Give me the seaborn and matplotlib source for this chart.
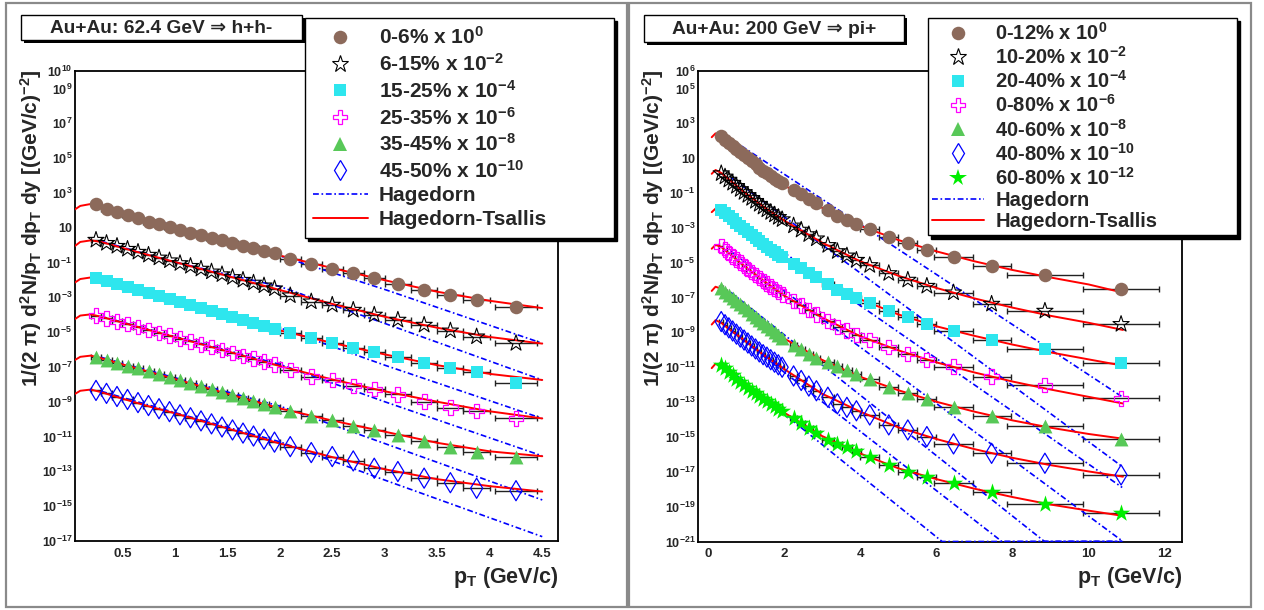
import numpy as np
import matplotlib
matplotlib.use("Agg")
import matplotlib.pyplot as plt
import seaborn as sns
from matplotlib.lines import Line2D
from matplotlib.patches import Rectangle
from matplotlib.ticker import FixedLocator, FixedFormatter, NullFormatter, MultipleLocator

# ---------------------------------------------------------------- data
# Left panel: Au+Au 62.4 GeV, h+h-   (values are log10 of the plotted yield)
left_pt = [0.25, 0.35, 0.45, 0.55, 0.65, 0.75, 0.85, 0.95, 1.05, 1.15, 1.25, 1.35, 1.45, 1.55,
           1.65, 1.75, 1.85, 1.95, 2.1, 2.3, 2.5, 2.7, 2.9, 3.125, 3.375, 3.625, 3.875, 4.25]
left_pt_err = [0.05] * 18 + [0.1, 0.1, 0.1, 0.1, 0.1, 0.125, 0.125, 0.125, 0.125, 0.2]

left_c0_6 = [2.34, 2.07, 1.90, 1.73, 1.54, 1.35, 1.19, 1.04, 0.87, 0.71, 0.56, 0.43, 0.27, 0.12,
             -0.03, -0.17, -0.32, -0.47, -0.78, -1.10, -1.36, -1.62, -1.91, -2.23, -2.58, -2.85, -3.15, -3.57]
left_c6_15 = [0.29, 0.11, -0.06, -0.23, -0.40, -0.57, -0.73, -0.89, -1.05, -1.21, -1.37, -1.53, -1.69, -1.85,
              -2.01, -2.17, -2.33, -2.50, -2.90, -3.25, -3.44, -3.73, -4.01, -4.30, -4.59, -4.92, -5.26, -5.64]
left_c15_25 = [-1.91, -2.09, -2.26, -2.43, -2.60, -2.77, -2.94, -3.11, -3.28, -3.45, -3.62, -3.79, -3.96, -4.13,
               -4.30, -4.47, -4.63, -4.80, -5.05, -5.36, -5.61, -5.89, -6.16, -6.45, -6.75, -7.08, -7.31, -7.90]
left_c25_35 = [-4.05, -4.21, -4.38, -4.54, -4.71, -4.87, -5.04, -5.20, -5.37, -5.53, -5.70, -5.86, -6.03, -6.19,
               -6.36, -6.52, -6.69, -6.85, -7.17, -7.55, -7.75, -8.09, -8.28, -8.57, -8.99, -9.34, -9.53, -9.96]
left_c35_45 = [-6.41, -6.58, -6.75, -6.92, -7.09, -7.26, -7.43, -7.60, -7.77, -7.94, -8.11, -8.28, -8.45, -8.62,
               -8.79, -8.96, -9.13, -9.30, -9.56, -9.80, -10.05, -10.39, -10.62, -10.91, -11.23, -11.58, -11.87, -12.15]
left_c45_50 = [-8.35, -8.52, -8.70, -8.87, -9.05, -9.22, -9.40, -9.57, -9.75, -9.92, -10.10, -10.27, -10.45, -10.62,
               -10.80, -10.97, -11.15, -11.32, -11.58, -11.92, -12.15, -12.40, -12.82, -13.01, -13.39, -13.65, -13.97, -14.11]

# Hagedorn-Tsallis curves (left), log10
left_ht_pt = [0.05, 0.1, 0.2, 0.3, 0.5, 0.75, 1.0, 1.5, 2.0, 2.5, 3.0, 3.5, 4.0, 4.5]
left_ht_0_6 = [2.05, 2.25, 2.36, 2.25, 1.88, 1.43, 1.00, 0.17, -0.60, -1.32, -2.02, -2.68, -3.20, -3.62]
left_ht_6_15 = [-0.05, 0.18, 0.27, 0.18, -0.16, -0.57, -0.97, -1.77, -2.58, -3.38, -4.12, -4.75, -5.28, -5.66]
left_ht_15_25 = [-2.15, -1.95, -1.86, -1.98, -2.33, -2.76, -3.19, -4.04, -4.90, -5.62, -6.28, -6.90, -7.40, -7.75]
left_ht_25_35 = [-4.25, -4.05, -3.98, -4.12, -4.45, -4.87, -5.28, -6.10, -6.95, -7.72, -8.40, -9.00, -9.55, -9.96]
left_ht_35_45 = [-6.60, -6.42, -6.35, -6.50, -6.85, -7.27, -7.69, -8.54, -9.38, -10.08, -10.72, -11.36, -11.85, -12.13]
left_ht_45_50 = [-8.55, -8.37, -8.30, -8.45, -8.82, -9.26, -9.66, -10.53, -11.40, -12.18, -12.88, -13.45, -13.85, -14.16]

# Hagedorn curves (left), log10
left_h_pt = [0.3, 1.0, 2.0, 3.0, 4.5]
left_h_0_6 = [2.30, 1.10, -0.62, -2.55, -5.64]
left_h_6_15 = [0.22, -0.98, -2.38, -4.50, -7.75]
left_h_15_25 = [-1.95, -3.15, -4.75, -6.90, -9.96]
left_h_25_35 = [-4.10, -5.25, -6.85, -9.00, -12.11]
left_h_35_45 = [-6.45, -7.62, -9.25, -11.40, -14.64]
left_h_45_50 = [-8.40, -9.62, -11.30, -13.50, -16.75]

# Right panel: Au+Au 200 GeV, pi+   (log10)
right_pt = [0.35, 0.45, 0.55, 0.65, 0.75, 0.85, 0.95, 1.05, 1.15, 1.25, 1.35, 1.45, 1.55, 1.65, 1.75, 1.85, 1.95,
            2.25, 2.45, 2.65, 2.85, 3.15, 3.4, 3.65, 3.9, 4.25,
            4.75, 5.25, 5.75, 6.45, 7.45, 8.85, 10.85]
right_pt_err = [0.05] * 17 + [0.1, 0.1, 0.1, 0.1, 0.15, 0.125, 0.125, 0.125, 0.25,
                              0.25, 0.25, 0.25, 0.5, 0.5, 1.0, 1.0]
right_c0_12 = [2.25, 2.06, 1.88, 1.70, 1.52, 1.34, 1.16, 0.99, 0.81, 0.64, 0.46, 0.29, 0.12, -0.03, -0.17, -0.31, -0.45,
               -0.83, -1.08, -1.35, -1.60, -1.98, -2.33, -2.55, -2.80, -3.08,
               -3.51, -3.89, -4.27, -4.65, -5.17, -5.70, -6.51]
right_c10_20 = [0.12, -0.07, -0.25, -0.43, -0.61, -0.79, -0.96, -1.13, -1.30, -1.47, -1.64, -1.80, -1.96, -2.11, -2.25, -2.39, -2.52,
                -2.88, -3.12, -3.38, -3.62, -4.00, -4.35, -4.60, -4.85, -5.15,
                -5.61, -5.99, -6.34, -6.72, -7.37, -7.77, -8.53]
right_c20_40 = [-1.97, -2.16, -2.34, -2.52, -2.70, -2.88, -3.06, -3.23, -3.41, -3.58, -3.76, -3.93, -4.10, -4.25, -4.40, -4.55, -4.69,
                -5.08, -5.33, -5.60, -5.85, -6.23, -6.58, -6.80, -7.05, -7.33,
                -7.77, -8.13, -8.52, -8.92, -9.43, -9.97, -10.77]
right_c0_80 = [-4.05, -4.25, -4.44, -4.63, -4.82, -5.00, -5.18, -5.36, -5.54, -5.71, -5.88, -6.05, -6.21, -6.37, -6.52, -6.67, -6.81,
               -7.20, -7.45, -7.72, -7.97, -8.35, -8.68, -8.90, -9.15, -9.43,
               -9.85, -10.24, -10.58, -10.97, -11.54, -12.03, -12.78]
right_c40_60 = [-6.47, -6.66, -6.84, -7.02, -7.20, -7.38, -7.56, -7.74, -7.92, -8.10, -8.28, -8.45, -8.62, -8.80, -8.97, -9.14, -9.32,
                -9.72, -9.98, -10.25, -10.45, -10.70, -10.93, -11.18, -11.40, -11.69,
                -12.15, -12.49, -12.84, -13.26, -13.78, -14.37, -15.13]
right_c40_80 = [-8.38, -8.56, -8.74, -8.92, -9.10, -9.27, -9.44, -9.61, -9.78, -9.95, -10.12, -10.28, -10.42, -10.57, -10.71, -10.86, -11.00,
                -11.50, -11.76, -12.08, -12.35, -12.72, -13.10, -13.30, -13.50, -13.74,
                -14.31, -14.60, -14.98, -15.40, -15.94, -16.51, -17.18]
right_c60_80 = [-10.87, -11.07, -11.27, -11.46, -11.65, -11.83, -12.00, -12.17, -12.34, -12.50, -12.66, -12.82, -12.96, -13.10, -13.24, -13.38, -13.52,
                -13.90, -14.20, -14.50, -14.78, -15.15, -15.38, -15.60, -15.82, -16.16,
                -16.60, -16.99, -17.28, -17.66, -18.17, -18.84, -19.38]

right_ht_pt = [0.1, 0.2, 0.35, 0.5, 1.0, 1.5, 2.0, 3.0, 4.0, 5.0, 6.0, 7.0, 8.0, 9.0, 10.0, 10.9]
right_ht_0_12 = [2.20, 2.42, 2.28, 2.00, 1.05, 0.18, -0.55, -1.85, -2.88, -3.70, -4.35, -4.92, -5.42, -5.85, -6.25, -6.72]
right_ht_10_20 = [0.10, 0.32, 0.15, -0.12, -1.03, -1.85, -2.58, -3.85, -4.92, -5.75, -6.45, -7.05, -7.58, -8.05, -8.45, -8.86]
right_ht_20_40 = [-2.10, -1.90, -2.00, -2.28, -3.15, -4.00, -4.75, -6.05, -7.10, -7.97, -8.65, -9.20, -9.70, -10.15, -10.55, -10.91]
right_ht_0_80 = [-4.20, -3.98, -4.10, -4.37, -5.27, -6.10, -6.88, -8.15, -9.22, -10.03, -10.72, -11.30, -11.82, -12.28, -12.70, -13.08]
right_ht_40_60 = [-6.62, -6.38, -6.50, -6.78, -7.65, -8.53, -9.35, -10.58, -11.55, -12.32, -12.98, -13.55, -14.05, -14.47, -14.83, -15.10]
right_ht_40_80 = [-8.55, -8.30, -8.45, -8.72, -9.52, -10.35, -11.10, -12.52, -13.55, -14.45, -15.12, -15.70, -16.20, -16.62, -16.98, -17.28]
right_ht_60_80 = [-11.05, -10.80, -10.95, -11.25, -12.08, -12.89, -13.60, -14.95, -15.95, -16.80, -17.42, -17.97, -18.45, -18.88, -19.23, -19.53]

# Hagedorn curves (right): (pT, log10); curves below the frame sit on the floor
right_h_0_12_pt, right_h_0_12 = [0.6, 10.88], [2.10, -12.70]
right_h_10_20_pt, right_h_10_20 = [0.6, 10.88], [-0.10, -16.70]
right_h_20_40_pt, right_h_20_40 = [0.6, 10.88], [-2.30, -17.90]
right_h_0_80_pt, right_h_0_80 = [0.6, 10.90], [-4.35, -21.0]
right_h_40_60_pt, right_h_40_60 = [0.6, 8.84, 10.88], [-6.70, -21.0, -21.0]
right_h_40_80_pt, right_h_40_80 = [0.6, 7.72, 10.88], [-8.90, -21.0, -21.0]
right_h_60_80_pt, right_h_60_80 = [0.6, 6.15, 10.88], [-11.20, -21.0, -21.0]

left_labels = ["0-6% x 10$^{0}$", "6-15% x 10$^{-2}$", "15-25% x 10$^{-4}$", "25-35% x 10$^{-6}$",
               "35-45% x 10$^{-8}$", "45-50% x 10$^{-10}$", "Hagedorn", "Hagedorn-Tsallis"]
right_labels = ["0-12% x 10$^{0}$", "10-20% x 10$^{-2}$", "20-40% x 10$^{-4}$", "0-80% x 10$^{-6}$",
                "40-60% x 10$^{-8}$", "40-80% x 10$^{-10}$", "60-80% x 10$^{-12}$", "Hagedorn", "Hagedorn-Tsallis"]
left_title = "Au+Au: 62.4 GeV ⇒ h+h-"
right_title = "Au+Au: 200 GeV ⇒ pi+"
left_xticks = [0.5, 1, 1.5, 2, 2.5, 3, 3.5, 4, 4.5]
left_xticklabels = ["0.5", "1", "1.5", "2", "2.5", "3", "3.5", "4", "4.5"]
right_xticks = [0, 2, 4, 6, 8, 10, 12]
right_xticklabels = ["0", "2", "4", "6", "8", "10", "12"]
left_ytick_exp = [-17, -15, -13, -11, -9, -7, -5, -3, -1, 1, 3, 5, 7, 9, 10]
right_ytick_exp = [-21, -19, -17, -15, -13, -11, -9, -7, -5, -3, -1, 1, 3, 5, 6]
ylabel = "1/(2 π) d$^{2}$N/p$_{T}$ dp$_{T}$ dy [(GeV/c)$^{-2}$]"
xlabel = "p$_{T}$ (GeV/c)"

# ---------------------------------------------------------------- style
sns.set_theme(style="white")
plt.rcParams["font.family"] = ["Liberation Sans", "DejaVu Sans"]
plt.rcParams["font.weight"] = "bold"
plt.rcParams["mathtext.fontset"] = "custom"
for k in ("rm", "it", "bf", "sf"):
    plt.rcParams["mathtext." + k] = "Liberation Sans:bold"
plt.rcParams["mathtext.default"] = "rm"

W, H = 1264, 610
fig = plt.figure(figsize=(W / 100, H / 100), dpi=100)
fig.patch.set_facecolor("white")


def fx(px):
    return px / W


def fy(py):
    return 1 - py / H


# panel borders
for (x0, y0, x1, y1) in [(6, 3, 627, 607), (629, 3, 1251, 607)]:
    fig.add_artist(Rectangle((fx(x0), fy(y1)), (x1 - x0) / W, (y1 - y0) / H, transform=fig.transFigure,
                             fill=False, edgecolor="#8a8a8a", lw=1.6, zorder=0))

axL = fig.add_axes([fx(75), fy(541), (558 - 75) / W, (541 - 71) / H])
axR = fig.add_axes([fx(698), fy(541.5), (1182 - 698) / W, (541.5 - 71) / H])

RED = "#ff0000"
BLUE = "#0000ff"
HDASH = (0, (3.5, 1.6, 1.0, 1.6))

styles = {
    "brown": dict(marker="o", s=95, facecolor="#8c6a5b", edgecolor="#8c6a5b", linewidth=0),
    "openstar": dict(marker="*", s=150, facecolor="none", edgecolor="black", linewidth=0.8),
    "cyan": dict(marker="s", s=85, facecolor="#2ee6ee", edgecolor="#2ee6ee", linewidth=0),
    "cross": dict(marker="P", s=110, facecolor="none", edgecolor="#ff00ff", linewidth=0.9),
    "tri": dict(marker="^", s=100, facecolor="#58c858", edgecolor="#58c858", linewidth=0),
    "diam": dict(marker="d", s=105, facecolor="none", edgecolor="#0000ff", linewidth=0.9),
    "gstar": dict(marker="*", s=170, facecolor="#00ee00", edgecolor="#00ee00", linewidth=0),
}


def legend_handle(st):
    return Line2D([], [], linestyle="none", marker=st["marker"], markersize=np.sqrt(st["s"]),
                  markerfacecolor=st["facecolor"], markeredgecolor=st["edgecolor"],
                  markeredgewidth=st["linewidth"])


def draw_panel(ax, pt, pt_err, series, ht_pt, ht_series, h_series):
    ax.set_yscale("log")
    for (bx, by) in h_series:
        sns.lineplot(x=bx, y=10.0 ** np.asarray(by), ax=ax, color=BLUE, linestyle=HDASH, linewidth=1.2,
                     estimator=None, sort=False, zorder=3)
    for hy in ht_series:
        sns.lineplot(x=ht_pt, y=10.0 ** np.asarray(hy), ax=ax, color=RED, linewidth=1.4,
                     estimator=None, sort=False, zorder=3)
    for vals, key in series:
        yv = 10.0 ** np.asarray(vals)
        ax.errorbar(pt, yv, xerr=pt_err, fmt="none", ecolor="#222222", elinewidth=1.0,
                    capsize=2, capthick=1.0, zorder=2)
        sns.scatterplot(x=pt, y=yv, ax=ax, zorder=4, legend=False, **styles[key])


draw_panel(axL, left_pt, left_pt_err,
           [(left_c0_6, "brown"), (left_c6_15, "openstar"), (left_c15_25, "cyan"),
            (left_c25_35, "cross"), (left_c35_45, "tri"), (left_c45_50, "diam")],
           left_ht_pt,
           [left_ht_0_6, left_ht_6_15, left_ht_15_25, left_ht_25_35, left_ht_35_45, left_ht_45_50],
           [(left_h_pt, left_h_0_6), (left_h_pt, left_h_6_15), (left_h_pt, left_h_15_25),
            (left_h_pt, left_h_25_35), (left_h_pt, left_h_35_45), (left_h_pt, left_h_45_50)])

draw_panel(axR, right_pt, right_pt_err,
           [(right_c0_12, "brown"), (right_c10_20, "openstar"), (right_c20_40, "cyan"),
            (right_c0_80, "cross"), (right_c40_60, "tri"), (right_c40_80, "diam"), (right_c60_80, "gstar")],
           right_ht_pt,
           [right_ht_0_12, right_ht_10_20, right_ht_20_40, right_ht_0_80, right_ht_40_60, right_ht_40_80, right_ht_60_80],
           [(right_h_0_12_pt, right_h_0_12), (right_h_10_20_pt, right_h_10_20), (right_h_20_40_pt, right_h_20_40),
            (right_h_0_80_pt, right_h_0_80), (right_h_40_60_pt, right_h_40_60), (right_h_40_80_pt, right_h_40_80),
            (right_h_60_80_pt, right_h_60_80)])


def exp_label(e):
    if e == 1:
        return "10"
    return "$10^{%d}$" % e


def style_axes(ax, xlim, ylim_exp, xticks, xticklabels, xminor, yexp):
    ax.set_xlim(*xlim)
    ax.set_ylim(10.0 ** ylim_exp[0], 10.0 ** ylim_exp[1])
    ax.set_xlabel("")
    ax.set_ylabel("")
    ax.xaxis.set_major_locator(FixedLocator(xticks))
    ax.xaxis.set_major_formatter(FixedFormatter(xticklabels))
    ax.xaxis.set_minor_locator(MultipleLocator(xminor))
    ax.yaxis.set_major_locator(FixedLocator([10.0 ** e for e in yexp]))
    ax.yaxis.set_major_formatter(FixedFormatter([exp_label(e) for e in yexp]))
    minor = [10.0 ** e for e in range(ylim_exp[0], ylim_exp[1] + 1) if e not in yexp]
    ax.yaxis.set_minor_locator(FixedLocator(minor))
    ax.yaxis.set_minor_formatter(NullFormatter())
    ax.tick_params(axis="both", which="major", direction="in", length=9, width=1.1, color="black",
                   top=False, right=False, labelsize=9, pad=2)
    ax.tick_params(axis="both", which="minor", direction="in", length=5, width=1.0, color="#333333",
                   top=False, right=False)
    ax.tick_params(axis="x", which="major", pad=5, labelsize=9.5)
    for lab in ax.get_xticklabels() + ax.get_yticklabels():
        lab.set_fontweight("bold")
    for sp in ax.spines.values():
        sp.set_color("black")
        sp.set_linewidth(1.3)
    ax.grid(False)
    ax.set_facecolor("white")


style_axes(axL, (0.05, 4.65), (-17, 10), left_xticks, left_xticklabels, 0.1, left_ytick_exp)
style_axes(axR, (-0.26, 12.45), (-21, 6), right_xticks, right_xticklabels, 0.5, right_ytick_exp)

# axis titles
for x_px in (31, 653):
    fig.text(fx(x_px), fy(69), ylabel, rotation=90, ha="center", va="top", fontsize=15, fontweight="bold")
for x_px in (558, 1182):
    fig.text(fx(x_px), fy(578), xlabel, ha="right", va="center", fontsize=15.5, fontweight="bold")


# title boxes with shadow
def title_box(x0, y0, x1, y1, text):
    fig.add_artist(Rectangle((fx(x0 + 3), fy(y1 + 3)), (x1 - x0) / W, (y1 - y0) / H, transform=fig.transFigure,
                             facecolor="black", edgecolor="none", zorder=5))
    fig.add_artist(Rectangle((fx(x0), fy(y1)), (x1 - x0) / W, (y1 - y0) / H, transform=fig.transFigure,
                             facecolor="white", edgecolor="black", lw=1.0, zorder=6))
    fig.text(fx((x0 + x1) / 2), fy((y0 + y1) / 2 + 1), text, ha="center", va="center", fontsize=13.8,
             fontweight="bold", zorder=7)


title_box(21, 15, 302, 40, left_title)
title_box(644, 15, 904, 42, right_title)


# legends
def make_legend(ax, keys, labels, box, fontsize, spacing, pad):
    x0, y0, x1, y1 = box
    handles = [legend_handle(styles[k]) for k in keys]
    handles.append(Line2D([], [], color=BLUE, linestyle=HDASH, linewidth=1.2))
    handles.append(Line2D([], [], color=RED, linewidth=1.4))
    leg = ax.legend(handles=handles, labels=labels, loc="upper left",
                    bbox_to_anchor=(fx(x0), fy(y1), (x1 - x0) / W, (y1 - y0) / H),
                    bbox_transform=fig.transFigure, mode="expand", borderaxespad=0,
                    prop={"size": fontsize, "weight": "bold"}, frameon=True, fancybox=False,
                    edgecolor="black", framealpha=1.0, facecolor="white",
                    shadow={"color": "black", "alpha": 1.0, "ox": 2.5, "oy": -2.5},
                    handlelength=2.6, handletextpad=0.55, borderpad=pad, labelspacing=spacing)
    leg.get_frame().set_linewidth(1.0)
    leg.set_zorder(10)
    return leg


make_legend(axL, ["brown", "openstar", "cyan", "cross", "tri", "diam"], left_labels,
            (305, 18, 614, 236), 15, 0.23, 0.4)
make_legend(axR, ["brown", "openstar", "cyan", "cross", "tri", "diam", "gstar"], right_labels,
            (928, 18, 1237, 235), 14.5, 0.11, 0.2)

fig.savefig("out.png", dpi=100)
